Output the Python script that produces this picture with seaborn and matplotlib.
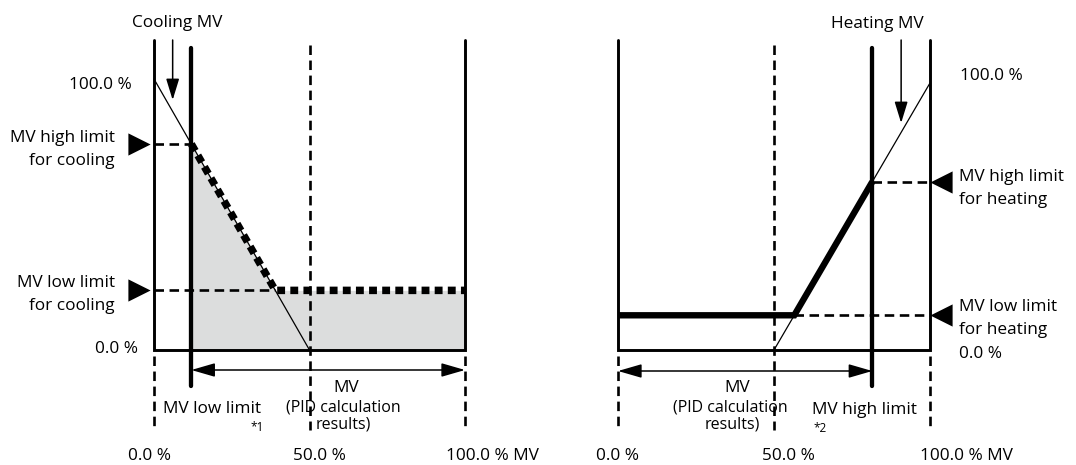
import matplotlib
matplotlib.use("Agg")
import matplotlib.pyplot as plt
import matplotlib.transforms as mtransforms
from matplotlib.path import Path
import seaborn as sns

# ---- values -------------------------------------------------------------
mv_scale = [0.0, 50.0, 100.0]                      # MV axis reference points (%)
mv_tick_labels = ["0.0 %", "50.0 %", "100.0 % MV"]
out_scale = [0.0, 100.0]                            # output axis (%)
out_tick_labels = ["0.0 %", "100.0 %"]

# raw PID split: cooling falls 100 -> 0 over MV 0..50, heating rises 0 -> 100 over MV 50..100
cool_raw_mv = [0.0, 50.0]
cool_raw_out = [100.0, 0.0]
heat_raw_mv = [50.0, 100.0]
heat_raw_out = [0.0, 100.0]

# limits
cool_mv_low_limit = 12.0        # *1
cool_out_high_limit = 76.0
cool_out_low_limit = 22.0
heat_mv_high_limit = 81.5       # *2
heat_out_high_limit = 63.0
heat_out_low_limit = 13.0

# MV where the raw lines reach the output low limits
cool_knee = 50.0 - cool_out_low_limit / 2.0
heat_knee = 50.0 + heat_out_low_limit / 2.0

# ---- figure / layout ----------------------------------------------------
sns.set_style("white")
plt.rcParams["font.family"] = ["Open Sans", "DejaVu Sans"]

W, H = 1076, 465
fig = plt.figure(figsize=(W / 100, H / 100), dpi=100)
pix = mtransforms.Affine2D().scale(1, -1).translate(0, H)   # pixel coords from top-left


def px_axes(left, right, top, bottom):
    return fig.add_axes([left / W, (H - bottom) / H, (right - left) / W, (bottom - top) / H])


ax_c = px_axes(154, 465, 79, 350)
ax_h = px_axes(618, 930, 83, 350)
for ax in (ax_c, ax_h):
    ax.set_xlim(mv_scale[0], mv_scale[-1])
    ax.set_ylim(out_scale[0], out_scale[-1])
    ax.set_axis_off()


def ydat(ax, py):
    return ax.transData.inverted().transform((0, H - py))[1]


BLACK = "black"
DASH_LW = 1.9
DASH = (0, (3.6, 2.1))
tri_right = Path([(-1, 1), (1, 0), (-1, -1), (-1, 1)],
                 [Path.MOVETO, Path.LINETO, Path.LINETO, Path.CLOSEPOLY])
tri_left = Path([(1, 1), (-1, 0), (1, -1), (1, 1)],
                [Path.MOVETO, Path.LINETO, Path.LINETO, Path.CLOSEPOLY])


def frame(ax):
    top = ydat(ax, 40)
    ax.plot([mv_scale[0], mv_scale[0], mv_scale[-1], mv_scale[-1]],
            [top, out_scale[0], out_scale[0], top],
            color=BLACK, lw=2.1, solid_joinstyle="miter", clip_on=False, zorder=4)
    ax.plot([mv_scale[1]] * 2, [ydat(ax, 45), ydat(ax, 430)],
            color=BLACK, lw=DASH_LW, ls=DASH, clip_on=False, zorder=3)
    for x in (mv_scale[0], mv_scale[-1]):
        ax.plot([x, x], [ydat(ax, 356), ydat(ax, 430)],
                color=BLACK, lw=DASH_LW, ls=DASH, clip_on=False, zorder=3)


def arrow(ax, x0, x1, y, style):
    ax.annotate("", xy=(x1, y), xytext=(x0, y) if style.startswith("<") else (x1, ydat(ax, 40)),
                xycoords="data", annotation_clip=False,
                arrowprops=dict(arrowstyle=style, mutation_scale=10, lw=1.1,
                                color=BLACK, shrinkA=0, shrinkB=0))


def pointers(ax, ys, x_px, marker):
    ax.plot([x_px] * len(ys), ys, ls="none", marker=marker, ms=16, mew=0,
            color=BLACK, clip_on=False, zorder=6,
            transform=mtransforms.blended_transform_factory(pix, ax.transData))


# ---- cooling panel ------------------------------------------------------
ax = ax_c
ax.fill_between([cool_mv_low_limit, cool_knee, mv_scale[-1]],
                [cool_out_high_limit, cool_out_low_limit, cool_out_low_limit],
                out_scale[0], color="#dcdddd", lw=0, zorder=1)
frame(ax)
sns.lineplot(x=cool_raw_mv, y=cool_raw_out, ax=ax, color=BLACK, lw=0.9,
             estimator=None, sort=False, clip_on=False, zorder=5)
ax.plot([mv_scale[0], cool_mv_low_limit], [cool_out_high_limit] * 2,
        color=BLACK, lw=DASH_LW, ls=DASH, clip_on=False, zorder=3)
ax.plot([mv_scale[0], cool_knee], [cool_out_low_limit] * 2,
        color=BLACK, lw=DASH_LW, ls=DASH, clip_on=False, zorder=3)
ax.plot([cool_mv_low_limit] * 2, [ydat(ax, 48), ydat(ax, 386)],
        color=BLACK, lw=3.1, clip_on=False, zorder=4)
sns.lineplot(x=[cool_mv_low_limit, cool_knee, mv_scale[-1]],
             y=[cool_out_high_limit, cool_out_low_limit, cool_out_low_limit],
             ax=ax, color=BLACK, lw=5.4, linestyle=(0, (1.05, 0.7)),
             dash_capstyle="butt", solid_joinstyle="miter",
             estimator=None, sort=False, clip_on=False, zorder=6)
arrow(ax, None, (mv_scale[0] + cool_mv_low_limit) / 2, ydat(ax, 100),
      "-|>,head_length=1.3,head_width=0.4")
arrow(ax, cool_mv_low_limit, mv_scale[-1], ydat(ax, 370),
      "<|-|>,head_length=1.45,head_width=0.42")
pointers(ax, [cool_out_high_limit, cool_out_low_limit], 139, tri_right)

# ---- heating panel ------------------------------------------------------
ax = ax_h
frame(ax)
sns.lineplot(x=heat_raw_mv, y=heat_raw_out, ax=ax, color=BLACK, lw=0.9,
             estimator=None, sort=False, clip_on=False, zorder=5)
ax.plot([heat_knee, mv_scale[-1]], [heat_out_low_limit] * 2,
        color=BLACK, lw=DASH_LW, ls=DASH, clip_on=False, zorder=3)
ax.plot([heat_mv_high_limit, mv_scale[-1]], [heat_out_high_limit] * 2,
        color=BLACK, lw=DASH_LW, ls=DASH, clip_on=False, zorder=3)
ax.plot([heat_mv_high_limit] * 2, [ydat(ax, 48), ydat(ax, 386)],
        color=BLACK, lw=3.1, clip_on=False, zorder=4)
sns.lineplot(x=[mv_scale[0], heat_knee, heat_mv_high_limit],
             y=[heat_out_low_limit, heat_out_low_limit, heat_out_high_limit],
             ax=ax, color=BLACK, lw=4.6, solid_capstyle="butt",
             solid_joinstyle="miter", estimator=None, sort=False,
             clip_on=False, zorder=6)
arrow(ax, None, (heat_mv_high_limit + mv_scale[-1]) / 2, ydat(ax, 123),
      "-|>,head_length=1.3,head_width=0.4")
arrow(ax, mv_scale[0], heat_mv_high_limit, ydat(ax, 371),
      "<|-|>,head_length=1.45,head_width=0.42")
pointers(ax, [heat_out_high_limit, heat_out_low_limit], 941, tri_left)

for ax in (ax_c, ax_h):
    ax.set_xlim(mv_scale[0], mv_scale[-1])
    ax.set_ylim(out_scale[0], out_scale[-1])


# ---- text ---------------------------------------------------------------
def label(x, y, s, ha="left", size=12.4):
    fig.text(x, y, s, transform=pix, ha=ha, va="baseline", fontsize=size, color=BLACK)


# cooling side
label(177, 27, "Cooling MV", ha="center")
label(132, 89, out_tick_labels[1], ha="right")
label(115, 142, "MV high limit", ha="right")
label(115, 165, "for cooling", ha="right")
label(115, 287, "MV low limit", ha="right")
label(115, 310, "for cooling", ha="right")
label(138, 353, out_tick_labels[0], ha="right")
label(346, 392, "MV", ha="center")
label(343, 411, "(PID calculation", ha="center", size=11.5)
label(343, 428, "results)", ha="center", size=11.5)
label(163, 413, "MV low limit")
label(250, 431, "*1", size=8.5)
label(150, 460, mv_tick_labels[0], ha="center")
label(319, 460, mv_tick_labels[1], ha="center")
label(446, 460, mv_tick_labels[2])

# heating side
label(877, 28, "Heating MV", ha="center")
label(960, 80, out_tick_labels[1])
label(959, 181, "MV high limit")
label(959, 204, "for heating")
label(959, 311, "MV low limit")
label(959, 334, "for heating")
label(959, 358, out_tick_labels[0])
label(737, 392, "MV", ha="center")
label(730, 411, "(PID calculation", ha="center", size=11.5)
label(732, 428, "results)", ha="center", size=11.5)
label(812, 414, "MV high limit")
label(813, 432, "*2", size=8.5)
label(618, 460, mv_tick_labels[0], ha="center")
label(788, 460, mv_tick_labels[1], ha="center")
label(920, 460, mv_tick_labels[2])

fig.savefig("out.png", dpi=100, facecolor="white")
